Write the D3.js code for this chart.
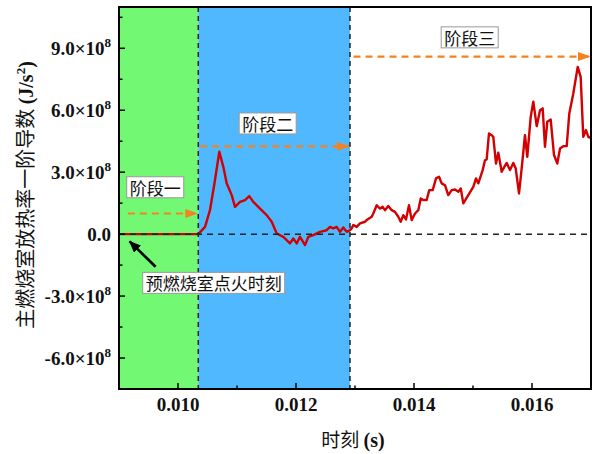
<!DOCTYPE html>
<html>
<head>
<meta charset="utf-8">
<script src="https://cdn.jsdelivr.net/npm/d3@7"></script>
<style>
  html, body { margin: 0; padding: 0; background: #fff; }
  svg { display: block; }
  .tick-label { font-family: "Liberation Serif", "Times New Roman", serif; font-weight: bold; font-size: 19px; fill: #111; }
  .cjk { font-family: "Noto Sans CJK SC", sans-serif; }
</style>
</head>
<body>
<svg id="chart" width="593" height="454"></svg>
<script>
// Time (s) and first derivative of heat release rate (×1e8 J/s²)
const timeS = [
  0.0090, 0.0095, 0.0100, 0.010344,
  0.010458, 0.010542, 0.010627, 0.010700, 0.010768, 0.010825, 0.010910, 0.010966,
  0.011051, 0.011136, 0.011208, 0.011276, 0.011390, 0.011503, 0.011588, 0.011673,
  0.011785, 0.011898, 0.011954, 0.012012, 0.012068, 0.012153, 0.012208, 0.012293,
  0.012407, 0.012520, 0.012576, 0.012632, 0.012690, 0.012746, 0.012802, 0.012859,
  0.012915, 0.012944, 0.012971, 0.013029, 0.013085, 0.013170, 0.013198, 0.013283,
  0.013310, 0.013368, 0.013424, 0.013469, 0.013508, 0.013564, 0.013622, 0.013678,
  0.013734, 0.013775, 0.013819, 0.013864, 0.013915, 0.013961, 0.014017, 0.014073,
  0.014114, 0.014158, 0.014215, 0.014259, 0.014317, 0.014373, 0.014424, 0.014469,
  0.014525, 0.014581, 0.014639, 0.014695, 0.014751, 0.014792, 0.014836, 0.014920,
  0.015005, 0.015051, 0.015090, 0.015164, 0.015203, 0.015232, 0.015271, 0.015317,
  0.015344, 0.015390, 0.015429, 0.015486, 0.015531, 0.015571, 0.015627, 0.015683,
  0.015724, 0.015780, 0.015825, 0.015881, 0.015920, 0.015978, 0.016022, 0.016080,
  0.016136, 0.016181, 0.016220, 0.016259, 0.016317, 0.016373, 0.016429, 0.016475,
  0.016530, 0.016588, 0.016632, 0.016700, 0.016775, 0.016825, 0.016869, 0.016915,
  0.016954, 0.017000
];
const dHRR = [
  0.00, 0.00, 0.00, 0.00,
  0.35, 1.16, 2.62, 3.99, 3.26, 2.46, 1.89, 1.32,
  1.56, 1.65, 1.84, 1.56, 1.24, 0.92, 0.60, 0.03,
  -0.13, -0.45, -0.21, -0.45, -0.13, -0.53, -0.13, -0.05,
  0.11, 0.19, 0.35, 0.28, 0.35, 0.11, 0.32, 0.11,
  0.19, 0.28, 0.44, 0.35, 0.52, 0.60, 0.68, 0.84,
  1.00, 1.40, 1.24, 1.32, 1.16, 1.36, 1.16, 1.08,
  0.84, 0.60, 0.92, 0.71, 1.40, 0.68, 1.00, 1.16,
  1.73, 1.65, 1.65, 2.13, 2.13, 2.70, 2.78, 2.46,
  2.37, 1.89, 2.13, 2.16, 2.05, 2.21, 1.49, 1.89,
  2.29, 2.70, 2.46, 3.10, 3.58, 3.62, 4.88, 4.79,
  4.71, 3.42, 3.94, 3.02, 3.26, 3.45, 3.10, 3.45,
  3.18, 1.97, 3.18, 4.79, 3.74, 5.68, 6.41, 5.23,
  6.00, 6.09, 4.23, 5.44, 5.55, 3.83, 3.42, 4.15,
  4.26, 4.26, 5.84, 6.81, 8.10, 7.62, 4.71, 5.04,
  4.71, 4.65
];

// Stage boundaries (s), stage names, colours, arrow heights and label centres (×1e8)
const stageBounds = [0.0090, 0.010344, 0.012915, 0.0170];
const stageNames = ["阶段一", "阶段二", "阶段三"];
const stageColors = ["#72f872", "#50b8ff", "#ffffff"];
const stageArrowY = [1.0, 4.25, 8.6];
const stageArrowStart = [0.00915, 0.010375, 0.012975];
const stageLabelX = [0.009614, 0.011520, 0.014944];
const stageLabelY = [2.27, 5.36, 9.53];

const xTicks = [0.010, 0.012, 0.014, 0.016];
const xMinor = [0.011, 0.013, 0.015];
const yTicks = [-6, -3, 0, 3, 6, 9];
const yMinor = [-4.5, -1.5, 1.5, 4.5, 7.5, 10.5];

const ignitionLabel = "预燃烧室点火时刻";
const ignitionLabelPos = [0.010605, -2.36];
const ignitionArrowFrom = [0.00962, -1.58];
const ignitionArrowTo = [0.00918, -0.35];

const W = 593, H = 454;
const m = { left: 119, top: 7, right: 2, bottom: 65 };
const pw = W - m.left - m.right, ph = H - m.top - m.bottom;

const svg = d3.select("#chart");
const g = svg.append("g").attr("transform", `translate(${m.left},${m.top})`);

const x = d3.scaleLinear().domain([0.009, 0.017]).range([0, pw]);
const y = d3.scaleLinear().domain([-7.5, 11.0]).range([ph, 0]);

// stage background bands
g.selectAll("rect.band").data(d3.range(3)).join("rect")
  .attr("x", i => x(stageBounds[i]))
  .attr("width", i => x(stageBounds[i + 1]) - x(stageBounds[i]))
  .attr("y", 0).attr("height", ph)
  .attr("fill", i => stageColors[i]);

// curve
const line = d3.line().x((d, i) => x(timeS[i])).y(d => y(d));
g.append("path").datum(dHRR)
  .attr("d", line)
  .attr("fill", "none")
  .attr("stroke", "#d20000")
  .attr("stroke-width", 2.4)
  .attr("stroke-linejoin", "round");

// zero reference line
g.append("line")
  .attr("x1", 0).attr("x2", pw)
  .attr("y1", y(0)).attr("y2", y(0))
  .attr("stroke", "#222").attr("stroke-width", 1.5)
  .attr("stroke-dasharray", "6,5");

// stage boundary lines
g.selectAll("line.bound").data(stageBounds.slice(1, 3)).join("line")
  .attr("x1", d => x(d)).attr("x2", d => x(d))
  .attr("y1", 0).attr("y2", ph)
  .attr("stroke", "#222").attr("stroke-width", 1.5)
  .attr("stroke-dasharray", "5,4");

// stage arrows
const defs = svg.append("defs");
defs.append("marker").attr("id", "orangeHead")
  .attr("viewBox", "0 0 13 9").attr("refX", 12).attr("refY", 4.5)
  .attr("markerWidth", 13).attr("markerHeight", 9)
  .attr("markerUnits", "userSpaceOnUse").attr("orient", "auto")
  .append("path").attr("d", "M0,0 L13,4.5 L0,9 Z").attr("fill", "#f58220");

g.selectAll("line.stageArrow").data(d3.range(3)).join("line")
  .attr("x1", i => x(stageArrowStart[i]))
  .attr("x2", i => x(stageBounds[i + 1]) - 1)
  .attr("y1", i => y(stageArrowY[i])).attr("y2", i => y(stageArrowY[i]))
  .attr("stroke", "#f58220").attr("stroke-width", 2.2)
  .attr("stroke-dasharray", "7,5")
  .attr("marker-end", "url(#orangeHead)");

// labelled boxes centred on a data point
function boxedText(px, py, text) {
  const grp = g.append("g");
  const t = grp.append("text").attr("class", "cjk")
    .attr("x", px).attr("y", py)
    .attr("font-size", 17).attr("fill", "#111")
    .attr("text-anchor", "middle")
    .attr("dominant-baseline", "central")
    .text(text);
  const bb = t.node().getBBox();
  grp.insert("rect", "text")
    .attr("x", bb.x - 3).attr("y", py - 10.5)
    .attr("width", bb.width + 6).attr("height", 21)
    .attr("fill", "#fff").attr("stroke", "#999").attr("stroke-width", 1);
}
stageNames.forEach((s, i) => boxedText(x(stageLabelX[i]), y(stageLabelY[i]), s));

// ignition annotation
defs.append("marker").attr("id", "blackHead")
  .attr("viewBox", "0 0 12 10").attr("refX", 11).attr("refY", 5)
  .attr("markerWidth", 12).attr("markerHeight", 10)
  .attr("markerUnits", "userSpaceOnUse").attr("orient", "auto")
  .append("path").attr("d", "M0,0 L12,5 L0,10 Z").attr("fill", "#000");
g.append("line")
  .attr("x1", x(ignitionArrowFrom[0])).attr("y1", y(ignitionArrowFrom[1]))
  .attr("x2", x(ignitionArrowTo[0])).attr("y2", y(ignitionArrowTo[1]))
  .attr("stroke", "#000").attr("stroke-width", 2.6)
  .attr("marker-end", "url(#blackHead)");
boxedText(x(ignitionLabelPos[0]), y(ignitionLabelPos[1]), ignitionLabel);

// frame
g.append("rect").attr("x", 0).attr("y", 0).attr("width", pw).attr("height", ph)
  .attr("fill", "none").attr("stroke", "#000").attr("stroke-width", 2);

// x axis ticks (inward)
const xa = g.append("g").attr("transform", `translate(0,${ph})`);
xa.selectAll("line.maj").data(xTicks).join("line")
  .attr("x1", d => x(d)).attr("x2", d => x(d)).attr("y1", 0).attr("y2", -6)
  .attr("stroke", "#000").attr("stroke-width", 1.5);
xa.selectAll("line.min").data(xMinor).join("line")
  .attr("x1", d => x(d)).attr("x2", d => x(d)).attr("y1", 0).attr("y2", -3.5)
  .attr("stroke", "#000").attr("stroke-width", 1.5);
xa.selectAll("text").data(xTicks).join("text")
  .attr("class", "tick-label")
  .attr("x", d => x(d)).attr("y", 22)
  .attr("text-anchor", "middle")
  .text(d3.format(".3f"));

// y axis ticks (inward)
const ya = g.append("g");
ya.selectAll("line.maj").data(yTicks).join("line")
  .attr("x1", 0).attr("x2", 6).attr("y1", d => y(d)).attr("y2", d => y(d))
  .attr("stroke", "#000").attr("stroke-width", 1.5);
ya.selectAll("line.min").data(yMinor).join("line")
  .attr("x1", 0).attr("x2", 3.5).attr("y1", d => y(d)).attr("y2", d => y(d))
  .attr("stroke", "#000").attr("stroke-width", 1.5);
ya.selectAll("text").data(yTicks).join("text")
  .attr("class", "tick-label")
  .attr("x", -8).attr("y", d => y(d) + 7)
  .attr("text-anchor", "end")
  .each(function (d) {
    const t = d3.select(this);
    if (d === 0) { t.text("0.0"); return; }
    t.append("tspan").text(d3.format(".1f")(d).replace("−", "-") + "×10");
    t.append("tspan").attr("font-size", 13).attr("dy", -8).text("8");
  });

// axis titles
svg.append("text")
  .attr("x", m.left + pw / 2 - 2).attr("y", 447)
  .attr("text-anchor", "middle")
  .attr("font-size", 19).attr("fill", "#111")
  .call(t => {
    t.append("tspan").attr("class", "cjk").text("时刻 ");
    t.append("tspan").attr("font-family", "Liberation Serif, serif").attr("font-weight", "bold").attr("font-size", 20).text("(s)");
  });

svg.append("text")
  .attr("transform", `translate(33,${m.top + ph / 2 - 3}) rotate(-90)`)
  .attr("text-anchor", "middle")
  .attr("font-size", 20).attr("fill", "#111")
  .call(t => {
    t.append("tspan").attr("class", "cjk").text("主燃烧室放热率一阶导数 ");
    const s = t.append("tspan").attr("font-family", "Liberation Serif, serif").attr("font-weight", "bold");
    s.append("tspan").text("(J/s");
    s.append("tspan").attr("font-size", 13).attr("dy", -8).text("2");
    s.append("tspan").attr("dy", 8).text(")");
  });
</script>
</body>
</html>
